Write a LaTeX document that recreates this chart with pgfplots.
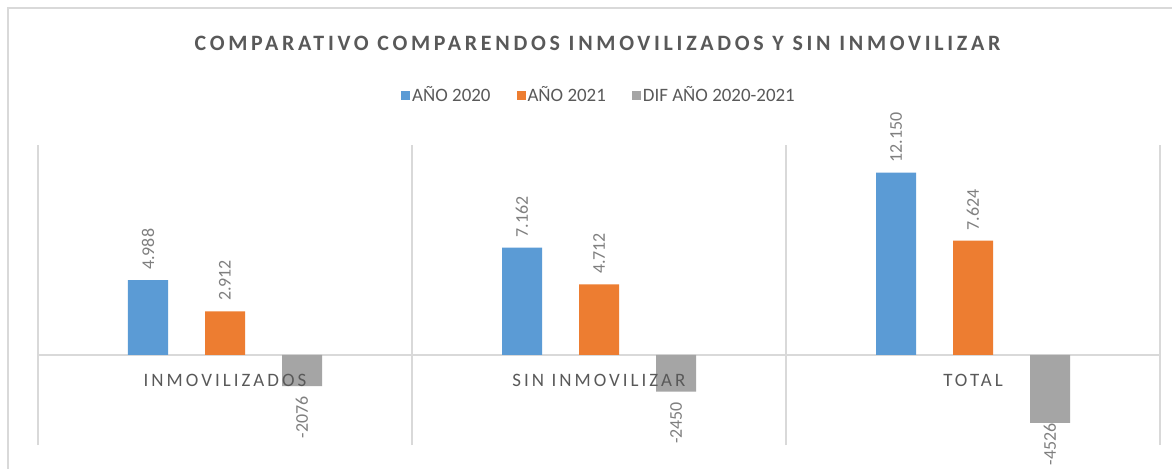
\documentclass[border=0pt]{standalone}
\usepackage{fontspec}
\setmainfont{Carlito}
\newfontfamily\spacedfont[LetterSpace=16]{Carlito}
\newfontfamily\titlefont[LetterSpace=17]{Carlito}
\usepackage{pgfplots}
\pgfplotsset{compat=1.18}
\definecolor{cblue}{HTML}{5B9BD5}
\definecolor{corange}{HTML}{ED7D31}
\definecolor{cgray}{HTML}{A5A5A5}
\definecolor{txt}{HTML}{595959}
\definecolor{vtxt}{HTML}{7F7F7F}
\definecolor{gridc}{HTML}{D9D9D9}
\pgfplotsset{myleg/.style={legend image code/.code={\fill[##1] (0bp,-2.25bp) rectangle (4.5bp,2.25bp);}}}
\begin{document}
\begin{tikzpicture}
\useasboundingbox (0,0) rectangle (586bp,234.5bp);
\fill[white] (0,0) rectangle (586bp,234.5bp);
\draw[gridc, line width=1bp] (4bp,-1bp) -- (4bp,230.5bp) -- (587bp,230.5bp);
\node[font=\titlefont\bfseries\fontsize{11}{13}\selectfont, text=txt] at (298.75bp,212.75bp) {COMPARATIVO COMPARENDOS INMOVILIZADOS Y SIN INMOVILIZAR};
\begin{axis}[
  at={(19bp,12bp)}, anchor=south west,
  scale only axis, width=561bp, height=150bp,
  xmin=-0.5, xmax=2.5, ymin=-6000, ymax=14000,
  axis line style={draw=none},
  xtick={-0.5,0.5,1.5,2.5}, xticklabels={},
  ytick=\empty,
  extra y ticks={0}, extra y tick labels={},
  extra y tick style={grid=major},
  xmajorgrids,
  grid style={gridc, line width=1bp},
  major tick length=0pt,
  ybar=18.5bp, bar width=20bp,
  nodes near coords, point meta=explicit symbolic,
  nodes near coords style={font=\fontsize{9}{10}\selectfont, text=vtxt, rotate=90, anchor=west, inner sep=0pt, inner xsep=5bp},
  legend style={at={(0.5,1.164)}, anchor=center, draw=none, fill=none, legend columns=3,
    font=\fontsize{9.5}{11}\selectfont, text=txt,
    /tikz/every even column/.append style={column sep=12bp},
    nodes={inner sep=1bp}},
  clip=false,
]
\addplot[fill=cblue, draw=none, myleg] coordinates {(0,4988) [4.988] (1,7162) [7.162] (2,12150) [12.150]};
\addplot[fill=corange, draw=none, myleg] coordinates {(0,2912) [2.912] (1,4712) [4.712] (2,7624) [7.624]};
\addplot[fill=cgray, draw=none, myleg, every node near coord/.append style={anchor=east}] coordinates {(0,-2076) [-2076] (1,-2450) [-2450] (2,-4526) [{-4526\kern-5bp}]};
\legend{AÑO 2020, AÑO 2021, DIF AÑO 2020-2021}
\node[font=\spacedfont\fontsize{9.5}{11}\selectfont, text=txt, yshift=-12.5bp] at (axis cs:0,0) {INMOVILIZADOS};
\node[font=\spacedfont\fontsize{9.5}{11}\selectfont, text=txt, yshift=-12.5bp] at (axis cs:1,0) {SIN INMOVILIZAR};
\node[font=\spacedfont\fontsize{9.5}{11}\selectfont, text=txt, yshift=-12.5bp] at (axis cs:2,0) {TOTAL};
\end{axis}
\end{tikzpicture}
\end{document}
